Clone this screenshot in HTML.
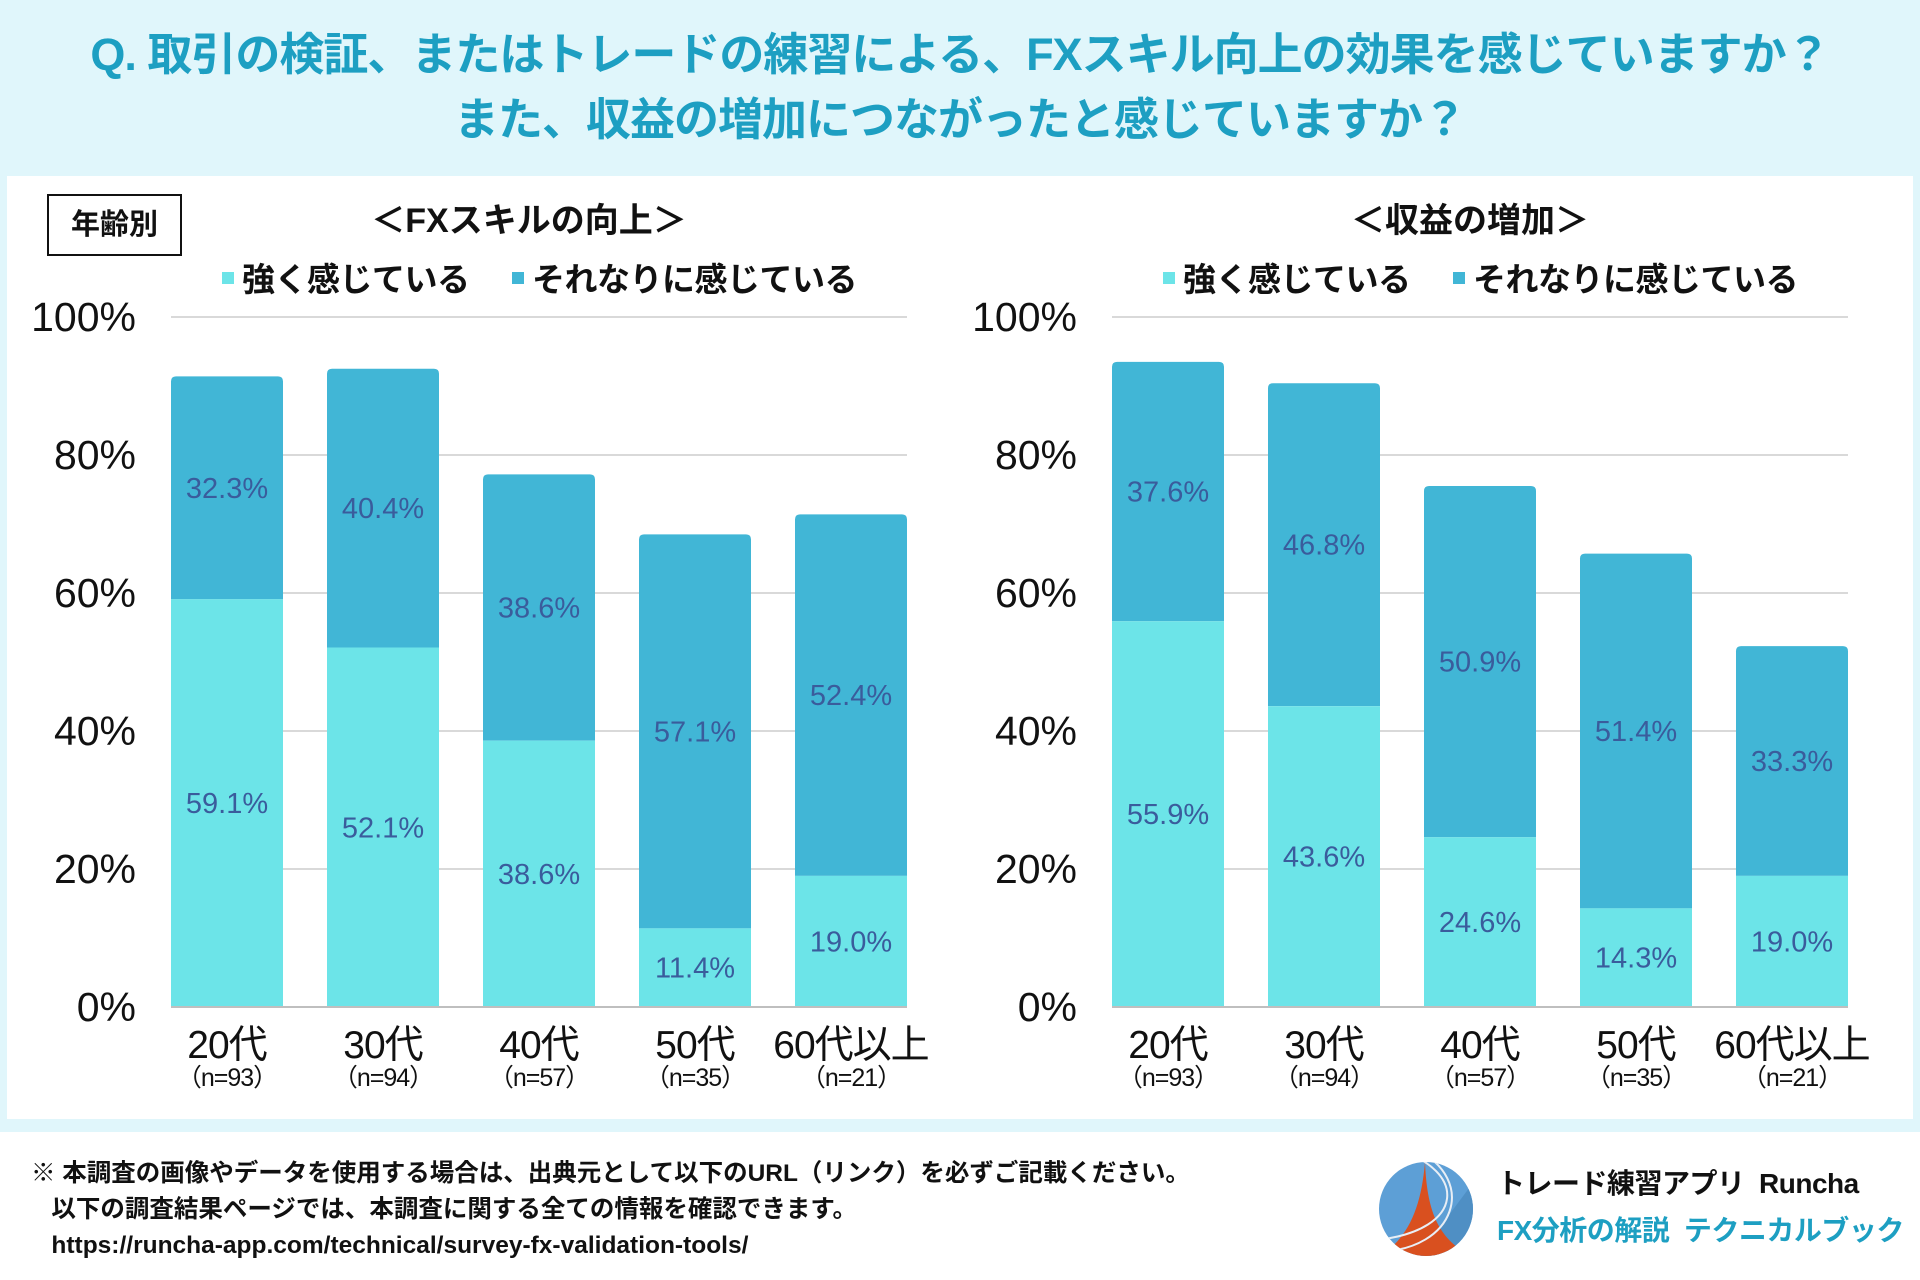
<!DOCTYPE html>
<html><head><meta charset="utf-8">
<style>
body{margin:0;width:1920px;height:1280px;background:#fff;font-family:"Liberation Sans","Noto Sans CJK JP",sans-serif;overflow:hidden;position:relative}
.abs{position:absolute}
</style></head>
<body>
<div class="abs" style="left:0;top:0;width:1920px;height:1132px;background:#e0f6fb"></div>
<div class="abs" style="left:7px;top:176px;width:1906px;height:943px;background:#fff"></div>
<div class="abs" style="left:0;top:22px;width:1920px;text-align:center;color:#1d9fc2;font-weight:bold;font-size:45px;line-height:65px;letter-spacing:-1px;white-space:nowrap">Q. 取引の検証、またはトレードの練習による、FXスキル向上の効果を感じていますか？<br>また、収益の増加につながったと感じていますか？</div>
<div class="abs" style="left:47px;top:194px;width:131px;height:58px;border:2px solid #111;box-sizing:content-box;text-align:center;line-height:58px;font-size:29px;font-weight:bold;color:#111">年齢別</div>
<svg class="abs" style="left:0;top:0" width="1920" height="1280" id="svg"></svg>
<div class="abs" style="left:31px;top:1156px;font-size:24.5px;font-weight:bold;color:#111;line-height:36px;white-space:nowrap">※ 本調査の画像やデータを使用する場合は、出典元として以下のURL（リンク）を必ずご記載ください。<br>&nbsp;&nbsp;&nbsp;以下の調査結果ページでは、本調査に関する全ての情報を確認できます。<br><span>&nbsp;&nbsp;&nbsp;https://runcha-app.com/technical/survey-fx-validation-tools/</span></div>
<svg class="abs" style="left:1377px;top:1160px" width="98" height="98">
<defs><clipPath id="c"><circle cx="49" cy="49" r="47"/></clipPath></defs>
<g clip-path="url(#c)"><rect width="98" height="98" fill="#5d9fd6"/><path d="M98 20 L98 98 L40 98 Z" fill="#4f8fc4"/>
<path d="M48 2 C50 50 60 80 98 98 L0 98 C30 80 44 50 48 2Z" fill="#d9501f"/>
<path d="M20 -10 C90 10 90 70 0 80" stroke="#e8eef5" stroke-width="2" fill="none"/><path d="M40 -10 C100 20 80 90 0 92" stroke="#e8eef5" stroke-width="2" fill="none"/></g></svg>
<div class="abs" style="left:1497px;top:1162px;font-size:28px;font-weight:bold;color:#111;white-space:nowrap;letter-spacing:-0.5px">トレード練習アプリ&nbsp; Runcha</div>
<div class="abs" style="left:1497px;top:1209px;font-size:28px;font-weight:bold;color:#1d9fc2;white-space:nowrap;letter-spacing:-0.5px">FX分析の解説&nbsp; テクニカルブック</div>
<script>
const categories=["20代","30代","40代","50代","60代以上"];
const sampleSizes=["（n=93）","（n=94）","（n=57）","（n=35）","（n=21）"];
const skillStrong=[59.1,52.1,38.6,11.4,19.0];
const skillSome=[32.3,40.4,38.6,57.1,52.4];
const profitStrong=[55.9,43.6,24.6,14.3,19.0];
const profitSome=[37.6,46.8,50.9,51.4,33.3];
const yTicks=[0,20,40,60,80,100];
const NS="http://www.w3.org/2000/svg";
const svg=document.getElementById('svg');
function mk(t,a,txt){const e=document.createElementNS(NS,t);for(const k in a)e.setAttribute(k,a[k]);if(txt!==undefined)e.textContent=txt;svg.appendChild(e);return e;}
function chart(x0,title,strong,some,key){
  const W=736,y0=1007,H=690,step=156,bw=112;
  const y=v=>y0-v/100*H;
  let t=mk('text',{x:x0+W/2-10,y:232,'text-anchor':'middle','font-size':34,'font-weight':'bold',fill:'#111'},title);
  
  const lx=[x0+51,x0+341];const labs=['強く感じている','それなりに感じている'];const cols=['#6ce4e8','#41b6d6'];
  for(let i=0;i<2;i++){
    let r=mk('rect',{x:lx[i],y:272,width:12,height:12,fill:cols[i]});
    
    let l=mk('text',{x:lx[i]+20,y:291,'font-size':33,'font-weight':'bold',fill:'#111','letter-spacing':'-0.5'},labs[i]);
    
  }
  yTicks.forEach(v=>{
    if(v>0){let g=mk('line',{x1:x0,x2:x0+W,y1:y(v),y2:y(v),stroke:'#d9d9d9','stroke-width':2});
    }
    let l=mk('text',{x:x0-35,y:y(v)+14,'text-anchor':'end','font-size':41,fill:'#111'},v+'%');
    
  });
  categories.forEach((c,i)=>{
    const bx=x0+i*step,a=strong[i],b=some[i];
    let top=mk('path',{d:`M${bx},${y(a)} L${bx},${y(a+b)+5} Q${bx},${y(a+b)} ${bx+5},${y(a+b)} L${bx+bw-5},${y(a+b)} Q${bx+bw},${y(a+b)} ${bx+bw},${y(a+b)+5} L${bx+bw},${y(a)} Z`,fill:'#41b6d6'});
    
    let bot=mk('rect',{x:bx,y:y(a),width:bw,height:y0-y(a),fill:'#6ce4e8'});
    
    let l1=mk('text',{x:bx+bw/2,y:(y(a)+y0)/2+10,'text-anchor':'middle','font-size':29,fill:'#3a5c9c'},a.toFixed(1)+'%');
    
    let l2=mk('text',{x:bx+bw/2,y:(y(a)+y(a+b))/2+10,'text-anchor':'middle','font-size':29,fill:'#3a5c9c'},b.toFixed(1)+'%');
    
    let xl=mk('text',{x:bx+bw/2,y:1058,'text-anchor':'middle','font-size':39,fill:'#111','letter-spacing':'-1'},c);
    
    let nl=mk('text',{x:bx+bw/2,y:1086,'text-anchor':'middle','font-size':25,fill:'#111','letter-spacing':'-1'},sampleSizes[i]);
    
  });
  let ax=mk('line',{x1:x0,x2:x0+W,y1:y0,y2:y0,stroke:'#bfbfbf','stroke-width':2});
  
}
chart(171,'＜FXスキルの向上＞',skillStrong,skillSome,'skill');
chart(1112,'＜収益の増加＞',profitStrong,profitSome,'profit');
</script>
</body></html>
